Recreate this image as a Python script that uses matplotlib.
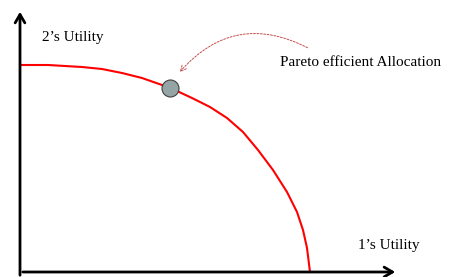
import matplotlib
matplotlib.use("Agg")
import matplotlib.pyplot as plt

# frontier (pixel-like units, origin at the axes corner)
frontier_x = [0, 28, 62, 82, 102, 122, 142, 157, 173, 190, 207, 223, 238, 253,
              267, 277, 283, 287, 290]
frontier_y = [207, 207, 205, 203, 199, 194, 187, 181, 173.5, 165, 154, 140, 122, 102,
              80, 60, 42, 24, 0]

point_x, point_y = 150, 184
note_text = "Pareto efficient Allocation"
ylab = "2\u2019s Utility"
xlab = "1\u2019s Utility"

plt.rcParams["font.family"] = ["Liberation Serif", "DejaVu Serif"]

fig = plt.figure(figsize=(4.51, 2.77), dpi=100)
ax = fig.add_axes([0, 0, 1, 1])
ax.set_xlim(-20, 431)
ax.set_ylim(-5, 272)
ax.axis("off")

# axes arrows
head = "->,head_length=0.6,head_width=0.35"
ax.annotate("", xy=(378, 0), xytext=(0, 0),
            arrowprops=dict(arrowstyle=head, lw=2, color="black"))
ax.annotate("", xy=(0, 263), xytext=(0, -6),
            arrowprops=dict(arrowstyle=head, lw=2, color="black"))

ax.plot(frontier_x, frontier_y, color="red", lw=1.5, solid_joinstyle="round")
ax.scatter([point_x], [point_y], s=150, color="#95a5a5", edgecolor="#404040", lw=0.8, zorder=5)

ax.annotate("", xy=(158, 198), xytext=(290, 223),
            arrowprops=dict(arrowstyle="->", linestyle=(0, (2, 1.5)), lw=0.7,
                            color="#c0504d", connectionstyle="arc3,rad=0.4"))

ax.text(22, 235, ylab, fontsize=11, va="center", ha="left")
ax.text(260, 210, note_text, fontsize=11, va="center", ha="left")
ax.text(338, 27, xlab, fontsize=11, va="center", ha="left")

fig.savefig("out.png", dpi=100)
